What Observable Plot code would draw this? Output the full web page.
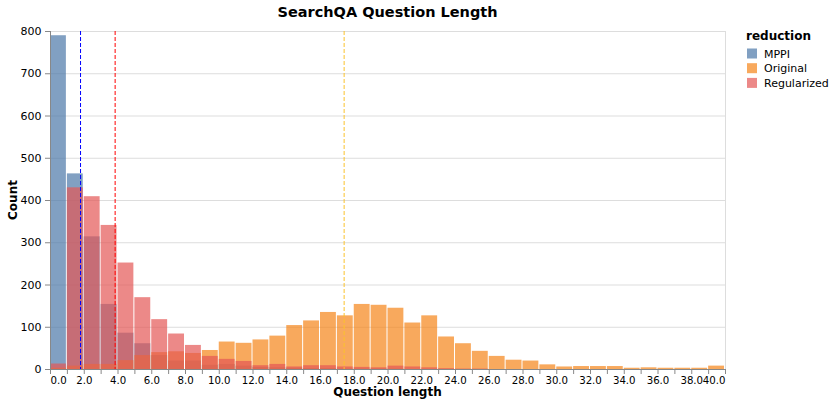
<!DOCTYPE html>
<html><head><meta charset="utf-8">
<script src="https://cdn.jsdelivr.net/npm/d3@7"></script>
<script src="https://cdn.jsdelivr.net/npm/@observablehq/plot@0.6"></script>
<style>body{margin:0;background:#fff;}</style>
</head><body><div id="chart"></div>
<script>
const binStarts = [0,1,2,3,4,5,6,7,8,9,10,11,12,13,14,15,16,17,18,19,20,21,22,23,24,25,26,27,28,29,30,31,32,33,34,35,36,37,38,39];
const seriesNames = ["MPPI","Original","Regularized"];
const seriesColors = ["#4c78a8","#f58518","#e45756"];
const mppiCounts =        [790,463,314,154,86,61,33,20,20,10,12,8,5,4,3,2,2,1,1,1,1,0,0,0,0,0,0,0,0,0,0,0,0,0,0,0,0,0,0,0];
const originalCounts =    [3,8,12,12,21,33,40,42,38,45,65,62,70,79,104,115,135,127,154,152,145,110,127,77,61,43,31,22,20,11,6,7,7,7,3,4,3,3,3,8];
const regularizedCounts = [13,430,409,341,252,170,118,84,57,31,24,19,9,12,6,9,9,6,5,4,8,6,4,2,1,1,0,0,0,0,0,0,0,0,0,0,0,0,0,0];
const meanValues = [1.78, 17.4, 3.83];
const meanColors = ["blue", "#fbc22c", "red"];
const xTickLabels = [0,2,4,6,8,10,12,14,16,18,20,22,24,26,28,30,32,34,36,38,40];
const xTicks = [0,1,2,3,4,5,6,7,8,9,10,11,12,13,14,15,16,17,18,19,20,21,22,23,24,25,26,27,28,29,30,31,32,33,34,35,36,37,38,39,40];
const yTicks = [0,100,200,300,400,500,600,700,800];

const seriesArrays = [mppiCounts, originalCounts, regularizedCounts];
const rows = [];
seriesNames.forEach((s, i) => binStarts.forEach((b, j) => rows.push({series: s, bin: b, count: seriesArrays[i][j]})));

const labelOpts = {x: d => d, text: d => d.toFixed(1), frameAnchor: "bottom", lineAnchor: "top", dy: 7, fill: "#000", fontSize: 10.2};

const svg = Plot.plot({
  width: 830, height: 410,
  marginLeft: 50, marginRight: 105, marginTop: 31, marginBottom: 41,
  style: {fontFamily: "DejaVu Sans, sans-serif", fontSize: "11px", background: "#fff", color: "#000"},
  x: {domain: [0, 40], label: null},
  y: {domain: [0, 800], label: null},
  color: {domain: seriesNames, range: seriesColors},
  marks: [
    Plot.gridY(yTicks, {stroke: "#ddd", strokeOpacity: 1}),
    Plot.ruleX([40], {stroke: "#ddd"}),
    Plot.rect(rows, {x1: "bin", x2: d => d.bin + 1, y1: d => 0, y2: "count", fill: "series", fillOpacity: 0.7, insetRight: 1}),
    ...meanValues.map((v, i) => Plot.ruleX([v], {stroke: meanColors[i], strokeDasharray: "4,2", strokeWidth: 1})),
    Plot.ruleX([0], {stroke: "#888"}),
    Plot.ruleY([0], {stroke: "#888"}),
    Plot.axisX(xTicks, {tickSize: 5, stroke: "#888", tickFormat: () => "", label: null}),
    Plot.text(xTickLabels.filter(d => d > 0 && d < 40), {...labelOpts, textAnchor: "middle"}),
    Plot.text([0], {...labelOpts, textAnchor: "start"}),
    Plot.text([40], {...labelOpts, textAnchor: "end"}),
    Plot.axisY(yTicks, {tickSize: 5, stroke: "#888", fill: "#000", label: null})
  ]
});
document.getElementById("chart").appendChild(svg);

const s = d3.select(svg);
const ff = "DejaVu Sans, sans-serif";
s.append("text").attr("x", 387.5).attr("y", 17).attr("text-anchor", "middle")
  .attr("font-size", 14.5).attr("font-weight", "bold").attr("font-family", ff).text("SearchQA Question Length");
s.append("text").attr("x", 387.5).attr("y", 396).attr("text-anchor", "middle")
  .attr("font-size", 12).attr("font-weight", "bold").attr("font-family", ff).text("Question length");
s.append("text").attr("transform", "translate(17,200) rotate(-90)").attr("text-anchor", "middle")
  .attr("font-size", 12).attr("font-weight", "bold").attr("font-family", ff).text("Count");
const lg = s.append("g").attr("font-family", ff).attr("text-anchor", "start");
lg.append("text").attr("x", 746).attr("y", 40).attr("text-anchor", "start").attr("font-size", 12).attr("font-weight", "bold").text("reduction");
seriesNames.forEach((n, i) => {
  const cy = 53.5 + i * 14.7;
  lg.append("rect").attr("x", 747).attr("y", cy - 5).attr("width", 10).attr("height", 10)
    .attr("fill", seriesColors[i]).attr("fill-opacity", 0.7);
  lg.append("text").attr("x", 764).attr("y", cy + 4).attr("text-anchor", "start").attr("font-size", 11).text(n);
});
</script>
</body></html>
